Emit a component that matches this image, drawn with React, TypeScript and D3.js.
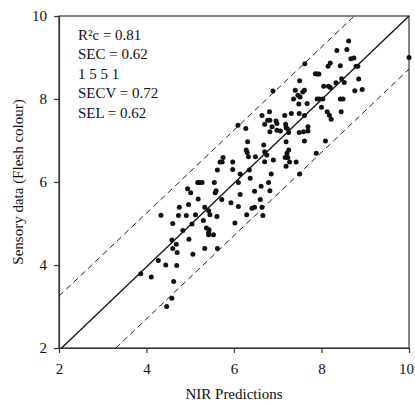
import React, { useEffect, useRef } from 'react';
import * as d3 from 'd3';

// NIR predicted values (x) and sensory scores (y)
const nirPred: number[] = [
  3.87, 4.11, 4.27, 4.33, 4.44, 4.46, 4.58, 4.62, 4.58, 4.6, 4.6, 4.68, 4.69, 4.7, 4.73, 4.75, 4.83,
  4.94, 5.01, 4.96, 4.91, 4.97, 5.06, 5.04, 5.12, 5.17, 5.18, 5.21, 5.27, 5.3, 5.33, 5.33, 5.37,
  5.42, 5.43, 5.42, 5.42, 5.45, 5.53, 5.55, 5.57, 5.59, 5.61, 5.62, 5.62, 5.72, 5.68, 5.75, 5.73,
  5.93, 5.97, 5.97, 6.02, 6.1, 6.1, 6.14, 6.14, 6.09, 6.27, 6.28, 6.3, 6.31, 6.33, 6.29, 6.35,
  6.37, 6.41, 6.47, 6.47, 6.49, 6.6, 6.64, 6.62, 6.64, 6.66, 6.68, 6.7, 6.7, 6.7, 6.75, 6.77,
  6.82, 6.79, 6.82, 6.81, 6.82, 6.85, 6.87, 6.89, 6.9, 6.96, 6.98, 6.98, 7.06, 7.16, 7.17, 7.18,
  7.19, 7.19, 7.19, 7.23, 7.21, 7.25, 7.25, 7.22, 7.27, 7.31, 7.36, 7.4, 7.42, 7.46, 7.48, 7.49,
  7.49, 7.5, 7.5, 7.51, 7.57, 7.59, 7.61, 7.61, 7.62, 7.61, 7.67, 7.69, 7.69, 7.86, 7.9, 7.94,
  7.88, 7.9, 7.95, 8.0, 8.03, 8.05, 8.09, 8.13, 8.15, 8.16, 8.18, 8.2, 8.2, 8.22, 8.33, 8.35,
  8.43, 8.45, 8.43, 8.46, 8.49, 8.52, 8.58, 8.62, 8.67, 8.74, 8.76, 8.79, 8.83, 8.85, 8.93, 10.0
];
const sensory: number[] = [
  3.79, 3.71, 4.11, 5.2, 4.0, 3.0, 3.2, 3.6, 4.6, 4.4, 5.0, 4.5, 3.99, 4.3, 5.19, 5.39, 4.83,
  5.84, 5.74, 5.46, 5.19, 4.62, 4.26, 4.99, 5.21, 5.99, 5.59, 5.99, 5.99, 5.07, 4.4, 5.39, 4.89,
  4.78, 4.85, 4.73, 5.31, 5.21, 4.73, 5.99, 5.74, 5.79, 5.17, 4.4, 6.29, 5.58, 6.48, 6.59, 6.48,
  5.5, 6.48, 6.3, 5.01, 5.99, 5.41, 5.7, 6.19, 7.37, 7.29, 6.77, 6.71, 6.97, 6.61, 5.21, 6.29,
  6.09, 5.37, 5.39, 5.78, 6.61, 5.58, 7.6, 5.9, 5.39, 5.19, 6.89, 6.73, 6.49, 7.39, 6.65, 7.49,
  7.49, 5.99, 5.79, 7.69, 7.21, 6.19, 7.33, 8.19, 6.53, 7.47, 7.25, 7.41, 7.23, 7.6, 6.59, 7.39,
  6.97, 7.31, 6.38, 6.59, 6.69, 7.19, 6.77, 7.29, 6.48, 7.65, 8.0, 8.21, 6.48, 8.09, 7.88, 7.65,
  7.19, 8.44, 6.19, 8.05, 8.17, 7.21, 8.21, 7.6, 8.85, 6.99, 7.89, 7.33, 7.23, 8.61, 8.6, 8.6,
  6.69, 8.0, 8.0, 7.8, 8.0, 8.31, 6.99, 7.69, 8.79, 8.31, 7.61, 8.28, 8.87, 7.51, 8.39, 9.17,
  8.0, 7.69, 8.8, 8.49, 8.0, 8.4, 9.19, 9.4, 8.97, 8.99, 8.2, 8.79, 8.79, 8.48, 8.23, 9.0
];

// 1:1 line and the two dashed limit lines (end points in data units)
const idealLine: [number, number][] = [[2.06, 2], [10, 10]];
const upperLine: [number, number][] = [[2, 3.25], [8.75, 10]];
const lowerLine: [number, number][] = [[3.3, 2], [10, 8.72]];

const xTicks = [2, 4, 6, 8, 10];
const yTicks = [2, 4, 6, 8, 10];
const statLines = ['R\u00B2c = 0.81', 'SEC = 0.62', '1 5 5 1', 'SECV = 0.72', 'SEL = 0.62'];

const App = () => {
  const chartRef = useRef<SVGSVGElement>(null);

  useEffect(() => {
    drawChart();
  }, []);

  const drawChart = () => {
    const W = 415;
    const H = 404;
    const margin = { top: 16, right: 6, bottom: 56, left: 59 };
    const font = '"Liberation Serif", "Times New Roman", serif';

    const svg = d3.select(chartRef.current);
    svg.selectAll('*').remove();

    const x = d3.scaleLinear().domain([2, 10]).range([margin.left, W - margin.right]);
    const y = d3.scaleLinear().domain([2, 10]).range([H - margin.bottom, margin.top]);

    // frame
    svg.append('rect')
      .attr('x', x(2))
      .attr('y', y(10))
      .attr('width', x(10) - x(2))
      .attr('height', y(2) - y(10))
      .attr('fill', 'none')
      .attr('stroke', '#333')
      .attr('stroke-width', 1.2);

    // axes
    const xAxis = svg.append('g')
      .attr('transform', `translate(0,${y(2)})`)
      .call(d3.axisBottom(x).tickValues(xTicks).tickSize(5).tickSizeOuter(0).tickPadding(10));
    const yAxis = svg.append('g')
      .attr('transform', `translate(${x(2)},0)`)
      .call(d3.axisLeft(y).tickValues(yTicks).tickSize(5).tickSizeOuter(0).tickPadding(7));
    [xAxis, yAxis].forEach(g => {
      g.select('.domain').attr('stroke', '#333').attr('stroke-width', 1.2);
      g.selectAll('.tick line').attr('stroke', '#333').attr('stroke-width', 1.2);
      g.selectAll('.tick text')
        .attr('fill', '#111')
        .style('font-family', font)
        .style('font-size', '15px');
    });
    // the last x label sits against the page edge
    xAxis.selectAll<SVGTextElement, number>('.tick text')
      .filter(d => d === 10)
      .attr('dx', -3);

    const line = d3.line<[number, number]>().x(d => x(d[0])).y(d => y(d[1]));

    svg.append('path')
      .attr('d', line(idealLine))
      .attr('fill', 'none')
      .attr('stroke', '#111')
      .attr('stroke-width', 1.3);

    [upperLine, lowerLine].forEach(l => {
      svg.append('path')
        .attr('d', line(l))
        .attr('fill', 'none')
        .attr('stroke', '#222')
        .attr('stroke-width', 1)
        .attr('stroke-dasharray', '6,4');
    });

    // points
    const pts = nirPred.map((v, i) => ({ px: v, py: sensory[i] }));
    svg.append('g')
      .selectAll('circle')
      .data(pts)
      .enter()
      .append('circle')
      .attr('cx', d => x(d.px))
      .attr('cy', d => y(d.py))
      .attr('r', 2.5)
      .attr('fill', '#111');

    // statistics block
    svg.append('g')
      .selectAll('text')
      .data(statLines)
      .enter()
      .append('text')
      .attr('x', 78)
      .attr('y', (d, i) => 40 + i * 19.4)
      .attr('fill', '#111')
      .style('font-family', font)
      .style('font-size', '15px')
      .text(d => d);

    // axis titles
    svg.append('text')
      .attr('x', (x(2) + x(10)) / 2)
      .attr('y', 399)
      .attr('text-anchor', 'middle')
      .attr('fill', '#111')
      .style('font-family', font)
      .style('font-size', '15px')
      .text('NIR Predictions');

    svg.append('text')
      .attr('transform', `translate(23,${(y(2) + y(10)) / 2}) rotate(-90)`)
      .attr('text-anchor', 'middle')
      .attr('fill', '#111')
      .style('font-family', font)
      .style('font-size', '15px')
      .text('Sensory data (Flesh colour)');
  };

  return (
    <div style={{ position: 'absolute', left: 0, top: 0, width: 415, height: 404, background: '#fff' }}>
      <svg ref={chartRef} width={415} height={404}></svg>
    </div>
  );
};

export default App;
